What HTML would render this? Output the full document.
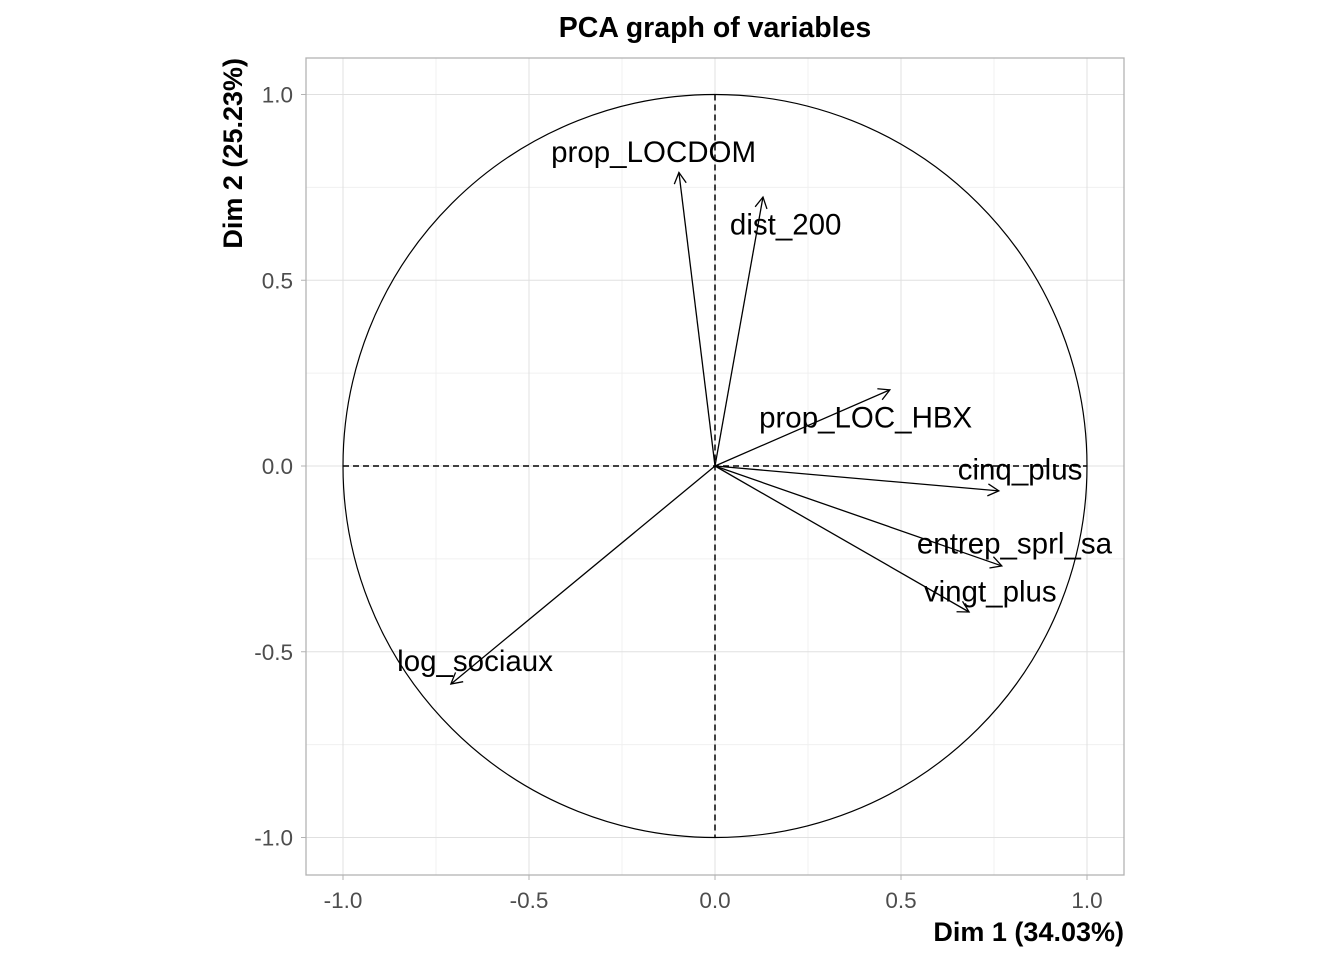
<!DOCTYPE html>
<html><head><meta charset="utf-8"><style>
body{margin:0;background:#fff}
svg{display:block;font-family:"Liberation Sans",Arial,sans-serif}
</style></head><body>
<svg id="chart" width="1344" height="960" xmlns="http://www.w3.org/2000/svg">
<defs><marker id="ah" markerWidth="14" markerHeight="14" refX="12" refY="7" orient="auto" markerUnits="userSpaceOnUse"><path d="M1,1 L12,7 L1,13" fill="none" stroke="#000" stroke-width="1.3"/></marker></defs>
<g id="grid"></g>
<g id="marks"></g>
<g id="axes"></g>
<text x="715" y="37" text-anchor="middle" font-size="28.5" font-weight="bold">PCA graph of variables</text>
<text x="1124" y="941" text-anchor="end" font-size="27" font-weight="bold">Dim 1 (34.03%)</text>
<text transform="translate(242,58) rotate(-90)" text-anchor="end" font-size="27" font-weight="bold">Dim 2 (25.23%)</text>
</svg>
<script>
const variables=["prop_LOCDOM","dist_200","prop_LOC_HBX","cinq_plus","entrep_sprl_sa","vingt_plus","log_sociaux"];
const dim1=[-0.097,0.129,0.47,0.763,0.771,0.683,-0.71];
const dim2=[0.79,0.724,0.205,-0.067,-0.269,-0.393,-0.587];
const labelX=[-0.165,0.19,0.405,0.82,0.805,0.74,-0.645];
const labelY=[0.845,0.65,0.13,-0.01,-0.208,-0.338,-0.525];
const ticks=[-1.0,-0.5,0.0,0.5,1.0];
const tickLabels=["-1.0","-0.5","0.0","0.5","1.0"];
const minorTicks=[-0.75,-0.25,0.25,0.75];

const sx=v=>715+v*372, sy=v=>466-v*371.5;
const NS="http://www.w3.org/2000/svg";
function mk(p,t,a){const e=document.createElementNS(NS,t);for(const k in a)e.setAttribute(k,a[k]);p.appendChild(e);return e;}
const grid=document.getElementById('grid'),marks=document.getElementById('marks'),axes=document.getElementById('axes');
const L=306,R=1124,T=58,B=875;
minorTicks.forEach(v=>{
 let a=mk(grid,'line',{x1:sx(v),x2:sx(v),y1:T,y2:B,stroke:'#f0f0f0','stroke-width':1});
 
 let b=mk(grid,'line',{x1:L,x2:R,y1:sy(v),y2:sy(v),stroke:'#f0f0f0','stroke-width':1});
 
});
ticks.forEach((v,i)=>{
 let a=mk(grid,'line',{x1:sx(v),x2:sx(v),y1:T,y2:B,stroke:'#e0e0e0','stroke-width':1});
 
 let b=mk(grid,'line',{x1:L,x2:R,y1:sy(v),y2:sy(v),stroke:'#e0e0e0','stroke-width':1});
 
 let tx=mk(axes,'text',{x:sx(v),y:908,'text-anchor':'middle','font-size':22.5,fill:'#4d4d4d'});tx.textContent=tickLabels[i];
 
 let ty=mk(axes,'text',{x:293,y:sy(v)+8,'text-anchor':'end','font-size':22.5,fill:'#4d4d4d'});ty.textContent=tickLabels[i];
 
 let kx=mk(axes,'line',{x1:sx(v),x2:sx(v),y1:B,y2:B+5,stroke:'#b3b3b3'});
 
 let ky=mk(axes,'line',{x1:L-5,x2:L,y1:sy(v),y2:sy(v),stroke:'#b3b3b3'});
 
});
let border=mk(axes,'rect',{x:L,y:T,width:R-L,height:B-T,fill:'none',stroke:'#b3b3b3','stroke-width':1.3});

let circ=mk(marks,'ellipse',{cx:sx(0),cy:sy(0),rx:372,ry:371.5,fill:'none',stroke:'#000','stroke-width':1.2});

let h=mk(marks,'line',{x1:sx(-1),x2:sx(1),y1:sy(0),y2:sy(0),stroke:'#000','stroke-width':1.5,'stroke-dasharray':'6,4'});

let vv=mk(marks,'line',{x1:sx(0),x2:sx(0),y1:sy(1),y2:sy(-1),stroke:'#000','stroke-width':1.5,'stroke-dasharray':'6,4'});

variables.forEach((n,i)=>{
 let a=mk(marks,'line',{x1:sx(0),y1:sy(0),x2:sx(dim1[i]),y2:sy(dim2[i]),stroke:'#000','stroke-width':1.3,'marker-end':'url(#ah)'});
 
 let t=mk(marks,'text',{x:sx(labelX[i]),y:sy(labelY[i])+10,'text-anchor':'middle','font-size':29.5});t.textContent=n;
 
});
</script>
</body></html>
